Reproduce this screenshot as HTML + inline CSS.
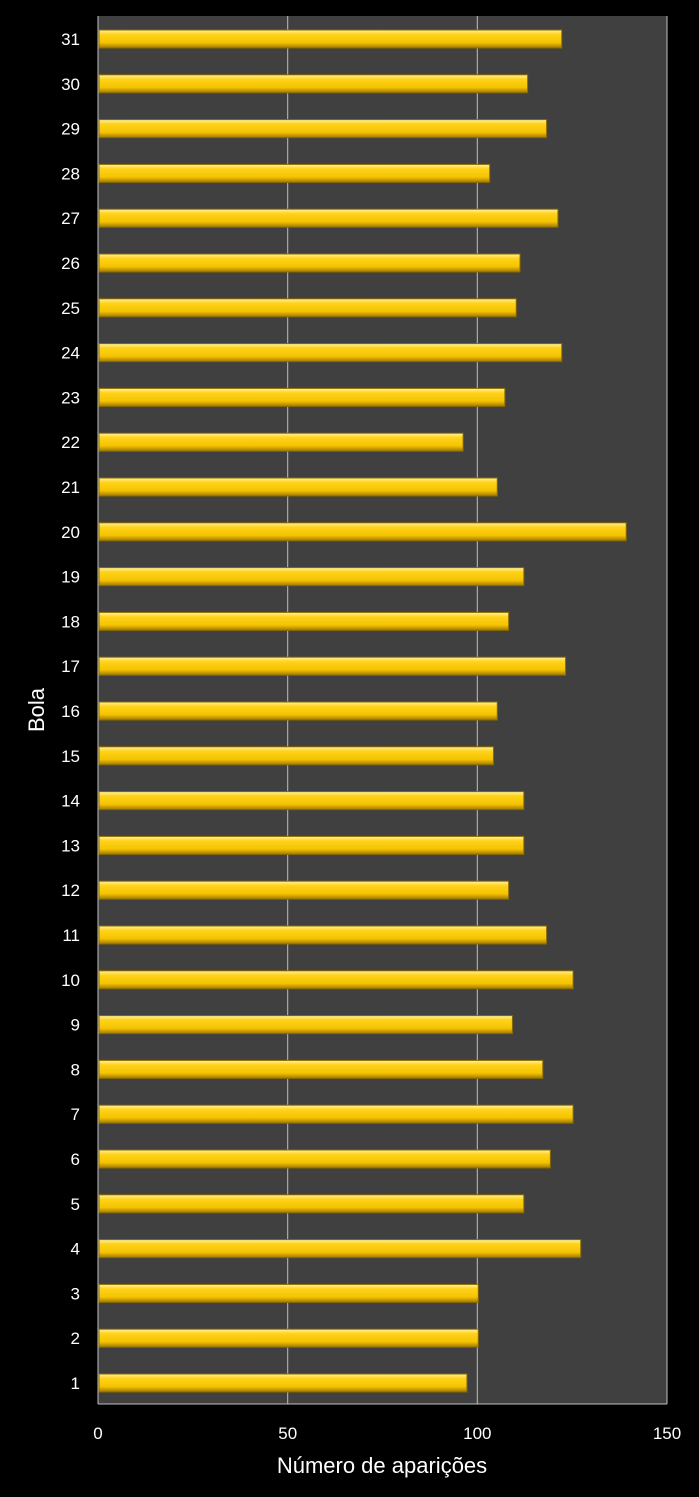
<!DOCTYPE html>
<html><head><meta charset="utf-8"><style>
html,body{margin:0;padding:0;background:#000;}
svg{display:block}
text{font-family:"Liberation Sans",sans-serif;fill:#fff}
</style></head><body>
<svg width="699" height="1497" xmlns="http://www.w3.org/2000/svg">
<defs>
<linearGradient id="g" x1="0" y1="0" x2="0" y2="1">
<stop offset="0" stop-color="#fff2a0"/>
<stop offset="0.25" stop-color="#ffd21a"/>
<stop offset="0.7" stop-color="#f5c400"/>
<stop offset="1" stop-color="#a07800"/>
</linearGradient>
</defs>
<rect x="0" y="0" width="699" height="1497" fill="#000"/>
<rect x="98" y="16" width="569" height="1388" fill="#404040"/>
<line x1="287.7" y1="16" x2="287.7" y2="1404" stroke="#bfbfbf" stroke-width="1"/>
<line x1="477.3" y1="16" x2="477.3" y2="1404" stroke="#bfbfbf" stroke-width="1"/>
<line x1="667" y1="16" x2="667" y2="1404" stroke="#bfbfbf" stroke-width="1"/>
<line x1="98" y1="16" x2="98" y2="1404" stroke="#bfbfbf" stroke-width="1"/>
<line x1="98" y1="1404" x2="667" y2="1404" stroke="#bfbfbf" stroke-width="1"/>
<g id="bars"></g>
<g id="labels" font-size="17" text-anchor="end"></g>
<text x="98" y="1439" font-size="17" text-anchor="middle">0</text>
<text x="287.7" y="1439" font-size="17" text-anchor="middle">50</text>
<text x="477.3" y="1439" font-size="17" text-anchor="middle">100</text>
<text x="667" y="1439" font-size="17" text-anchor="middle">150</text>
<text x="382" y="1473" font-size="22" text-anchor="middle">Número de aparições</text>
<text transform="translate(44,710) rotate(-90)" font-size="22" text-anchor="middle">Bola</text>
<script>
var v=[97,100,100,127,112,119,125,117,109,125,118,108,112,112,104,105,123,108,112,139,105,96,107,122,110,111,121,103,118,113,122];
var b=document.getElementById('bars'),l=document.getElementById('labels'),ns='http://www.w3.org/2000/svg';
for(var i=0;i<31;i++){var yc=1383-i*44.8;
var r=document.createElementNS(ns,'rect');r.setAttribute('x',99);r.setAttribute('y',yc-9);r.setAttribute('width',v[i]*3.793);r.setAttribute('height',18);r.setAttribute('fill','url(#g)');r.setAttribute('stroke','#8a6a00');r.setAttribute('stroke-width','1');b.appendChild(r);
var t=document.createElementNS(ns,'text');t.setAttribute('x',80);t.setAttribute('y',yc+6);t.textContent=(i+1);l.appendChild(t);}
</script>
</svg>
</body></html>
